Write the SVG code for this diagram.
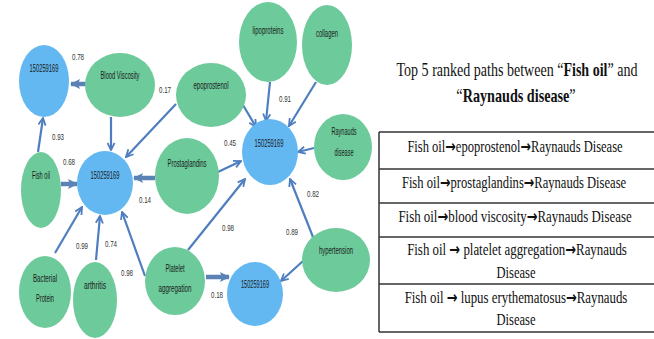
<svg xmlns="http://www.w3.org/2000/svg" width="654" height="339" viewBox="0 0 654 339">
<style>
.b{fill:#63B8F1}
.g{fill:#6DCA9A}
.nt{font-family:"Liberation Sans",Arial,sans-serif;font-size:10px;fill:#1a1a1a;text-anchor:middle}
.el{font-family:"Liberation Sans",Arial,sans-serif;font-size:9.5px;fill:#333;text-anchor:middle}
.e{stroke:#4E7EBF;stroke-width:2.2;fill:none;marker-end:url(#ah)}
.t{stroke:#5A82B5;stroke-width:4.5;fill:none;marker-end:url(#th)}
.tx{font-family:"Liberation Serif","Times New Roman",serif;font-size:17px;fill:#111;text-anchor:middle}
.ti{font-family:"Liberation Serif","Times New Roman",serif;font-size:18px;fill:#111;text-anchor:middle}
.ar{font-family:"DejaVu Sans",sans-serif;font-weight:bold}
.tl{stroke:#333;stroke-width:1.5}
</style>
<defs>
<marker id="ah" viewBox="0 0 10 10" refX="9" refY="5" markerWidth="9" markerHeight="9" markerUnits="userSpaceOnUse" orient="auto"><path d="M1,1 L9,5 L1,9" fill="none" stroke="#4E7EBF" stroke-width="2"/></marker>
<marker id="th" viewBox="0 0 10 10" refX="9" refY="5" markerWidth="10" markerHeight="12" markerUnits="userSpaceOnUse" orient="auto"><path d="M0,0 L10,5 L0,10 L2,5 Z" fill="#5A82B5"/></marker>
</defs>
<rect width="654" height="339" fill="#fff"/>
<g id="connectors">
<line class="t" x1="86" y1="84" x2="71" y2="84"/>
<line class="e" x1="111" y1="117" x2="111" y2="150"/>
<line class="e" x1="176" y1="104" x2="126" y2="157"/>
<line class="e" x1="38" y1="152" x2="43" y2="118"/>
<line class="t" x1="61" y1="184" x2="77" y2="184"/>
<line class="t" x1="155" y1="178" x2="134" y2="178"/>
<line class="e" x1="55" y1="253" x2="82" y2="207"/>
<line class="e" x1="96" y1="260" x2="100" y2="216"/>
<line class="e" x1="145" y1="276" x2="122" y2="212"/>
<line class="e" x1="243" y1="105" x2="256" y2="127"/>
<line class="e" x1="270" y1="82" x2="266" y2="121"/>
<line class="e" x1="316" y1="82" x2="289" y2="126"/>
<line class="e" x1="314" y1="148" x2="298" y2="152"/>
<line class="e" x1="218" y1="172" x2="241" y2="161"/>
<line class="e" x1="188" y1="250" x2="245" y2="179"/>
<line class="e" x1="313" y1="237" x2="290" y2="179"/>
<line class="e" x1="303" y1="261" x2="281" y2="281"/>
<line class="t" x1="206" y1="277" x2="229" y2="277"/>
</g>
<g id="edge-labels">
<text class="el" x="78" y="60" textLength="12" lengthAdjust="spacingAndGlyphs">0.78</text>
<text class="el" x="165" y="93" textLength="12" lengthAdjust="spacingAndGlyphs">0.17</text>
<text class="el" x="58" y="140" textLength="12" lengthAdjust="spacingAndGlyphs">0.93</text>
<text class="el" x="69" y="165" textLength="12" lengthAdjust="spacingAndGlyphs">0.68</text>
<text class="el" x="145" y="203" textLength="12" lengthAdjust="spacingAndGlyphs">0.14</text>
<text class="el" x="82" y="249" textLength="12" lengthAdjust="spacingAndGlyphs">0.99</text>
<text class="el" x="111" y="247" textLength="12" lengthAdjust="spacingAndGlyphs">0.74</text>
<text class="el" x="127" y="276" textLength="12" lengthAdjust="spacingAndGlyphs">0.98</text>
<text class="el" x="230" y="146" textLength="12" lengthAdjust="spacingAndGlyphs">0.45</text>
<text class="el" x="285" y="102" textLength="12" lengthAdjust="spacingAndGlyphs">0.91</text>
<text class="el" x="313" y="197" textLength="12" lengthAdjust="spacingAndGlyphs">0.82</text>
<text class="el" x="228" y="231" textLength="12" lengthAdjust="spacingAndGlyphs">0.98</text>
<text class="el" x="292" y="235" textLength="12" lengthAdjust="spacingAndGlyphs">0.89</text>
<text class="el" x="217" y="298" textLength="12" lengthAdjust="spacingAndGlyphs">0.18</text>
</g>
<g id="n-blue1"><ellipse class="b" cx="44" cy="81" rx="25" ry="36"/><text class="nt" x="44" y="72" textLength="29" lengthAdjust="spacingAndGlyphs">150259169</text></g>
<g id="n-blue2"><ellipse class="b" cx="105" cy="183" rx="28" ry="32"/><text class="nt" x="105" y="179" textLength="29" lengthAdjust="spacingAndGlyphs">150259169</text></g>
<g id="n-blue3"><ellipse class="b" cx="270" cy="152" rx="28" ry="33"/><text class="nt" x="269" y="147" textLength="29" lengthAdjust="spacingAndGlyphs">150259169</text></g>
<g id="n-blue4"><ellipse class="b" cx="255" cy="294" rx="28" ry="32"/><text class="nt" x="255" y="288" textLength="28" lengthAdjust="spacingAndGlyphs">150259169</text></g>
<g id="n-blood"><ellipse class="g" cx="120" cy="85" rx="35" ry="32"/><text class="nt" x="120" y="79" textLength="39" lengthAdjust="spacingAndGlyphs">Blood Viscosity</text></g>
<g id="n-epo"><ellipse class="g" cx="211" cy="95" rx="35" ry="32"/><text class="nt" x="211" y="89" textLength="35" lengthAdjust="spacingAndGlyphs">epoprostenol</text></g>
<g id="n-lipo"><ellipse class="g" cx="268" cy="42" rx="29" ry="40"/><text class="nt" x="268" y="34" textLength="31" lengthAdjust="spacingAndGlyphs">lipoproteins</text></g>
<g id="n-coll"><ellipse class="g" cx="327" cy="45" rx="25" ry="40"/><text class="nt" x="327" y="37" textLength="22" lengthAdjust="spacingAndGlyphs">collagen</text></g>
<g id="n-ray"><ellipse class="g" cx="343" cy="147" rx="29" ry="33"/><text class="nt" x="344" y="135" textLength="25" lengthAdjust="spacingAndGlyphs">Raynauds</text><text class="nt" x="344" y="156" textLength="19" lengthAdjust="spacingAndGlyphs">disease</text></g>
<g id="n-fish"><ellipse class="g" cx="41" cy="190" rx="20" ry="38"/><text class="nt" x="41" y="179" textLength="18" lengthAdjust="spacingAndGlyphs">Fish oil</text></g>
<g id="n-prost"><ellipse class="g" cx="187" cy="176" rx="32" ry="38"/><text class="nt" x="187" y="167" textLength="39" lengthAdjust="spacingAndGlyphs">Prostaglandins</text></g>
<g id="n-bact"><ellipse class="g" cx="45" cy="292" rx="26" ry="36"/><text class="nt" x="45" y="282" textLength="24" lengthAdjust="spacingAndGlyphs">Bacterial</text><text class="nt" x="45" y="302" textLength="18" lengthAdjust="spacingAndGlyphs">Protein</text></g>
<g id="n-arth"><ellipse class="g" cx="95" cy="300" rx="22" ry="38"/><text class="nt" x="95" y="289" textLength="22" lengthAdjust="spacingAndGlyphs">arthritis</text></g>
<g id="n-plat"><ellipse class="g" cx="175" cy="281" rx="30" ry="34"/><text class="nt" x="175" y="272" textLength="19" lengthAdjust="spacingAndGlyphs">Platelet</text><text class="nt" x="175" y="292" textLength="33" lengthAdjust="spacingAndGlyphs">aggregation</text></g>
<g id="n-hyper"><ellipse class="g" cx="336" cy="260" rx="34" ry="32"/><text class="nt" x="336" y="254" textLength="34" lengthAdjust="spacingAndGlyphs">hypertension</text></g>
<g id="title">
<text class="ti" transform="translate(517,76) scale(0.78,1)" textLength="309" lengthAdjust="spacingAndGlyphs">Top 5 ranked paths between “<tspan font-weight="bold">Fish oil</tspan>” and</text>
<text class="ti" transform="translate(516,102) scale(0.78,1)" textLength="153" lengthAdjust="spacingAndGlyphs">“<tspan font-weight="bold">Raynauds disease</tspan>”</text>
</g>
<g id="table">
<line class="tl" x1="379" y1="132" x2="654" y2="132"/>
<line class="tl" x1="379" y1="169" x2="654" y2="169"/>
<line class="tl" x1="379" y1="203" x2="654" y2="203"/>
<line class="tl" x1="379" y1="237" x2="654" y2="237"/>
<line class="tl" x1="379" y1="284" x2="654" y2="284"/>
<line class="tl" x1="379" y1="332" x2="654" y2="332"/>
<line class="tl" x1="379" y1="132" x2="379" y2="332"/>
<text class="tx" transform="translate(515,152) scale(0.75,1)" textLength="287" lengthAdjust="spacingAndGlyphs">Fish oil<tspan class="ar">→</tspan>epoprostenol<tspan class="ar">→</tspan>Raynauds Disease</text>
<text class="tx" transform="translate(514,188) scale(0.75,1)" textLength="299" lengthAdjust="spacingAndGlyphs">Fish oil<tspan class="ar">→</tspan>prostaglandins<tspan class="ar">→</tspan>Raynauds Disease</text>
<text class="tx" transform="translate(515,222) scale(0.75,1)" textLength="311" lengthAdjust="spacingAndGlyphs">Fish oil<tspan class="ar">→</tspan>blood viscosity<tspan class="ar">→</tspan>Raynauds Disease</text>
<text class="tx" transform="translate(517,255) scale(0.75,1)" textLength="293" lengthAdjust="spacingAndGlyphs">Fish oil <tspan class="ar">→</tspan> platelet aggregation<tspan class="ar">→</tspan>Raynauds</text>
<text class="tx" transform="translate(516,278) scale(0.75,1)" textLength="52" lengthAdjust="spacingAndGlyphs">Disease</text>
<text class="tx" transform="translate(516,303) scale(0.75,1)" textLength="297" lengthAdjust="spacingAndGlyphs">Fish oil <tspan class="ar">→</tspan> lupus erythematosus<tspan class="ar">→</tspan>Raynauds</text>
<text class="tx" transform="translate(516,325) scale(0.75,1)" textLength="52" lengthAdjust="spacingAndGlyphs">Disease</text>
</g>
</svg>
